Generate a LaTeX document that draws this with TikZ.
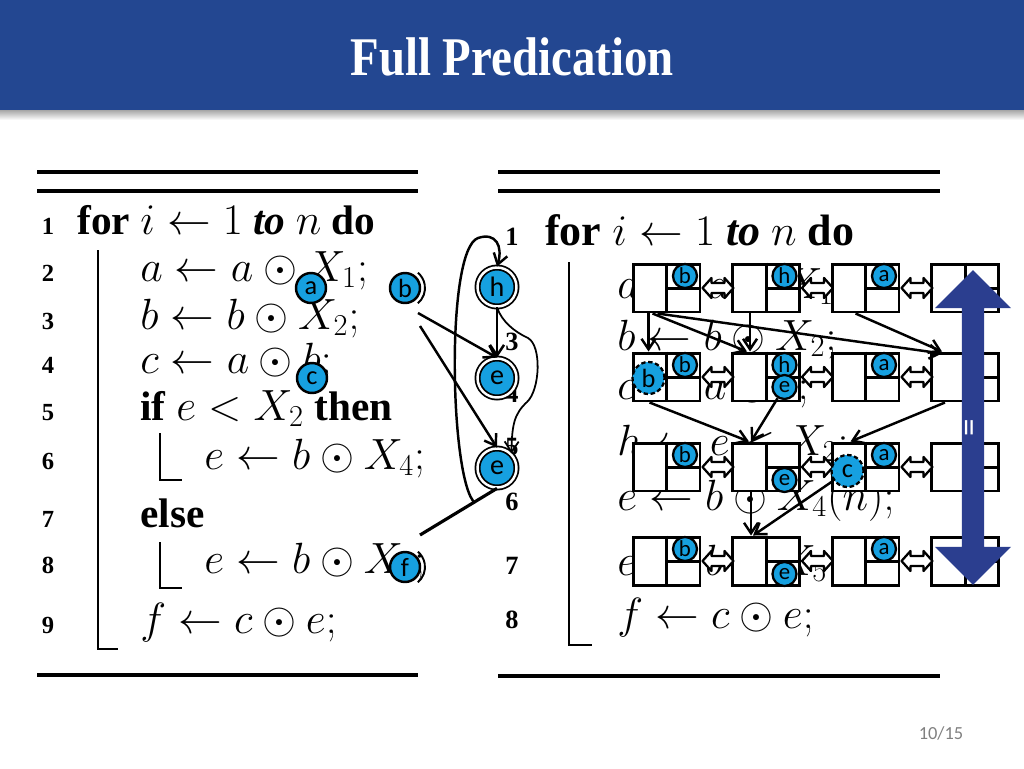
\documentclass[tikz,border=0pt]{standalone}
\usepackage{amsmath,amssymb}
\usepackage{fontspec}
\setmainfont{Liberation Serif}
\newfontfamily\labelfont{Carlito}
\usetikzlibrary{arrows.meta,shapes,positioning,calc}
\definecolor{slideblue}{RGB}{35,71,145}
\definecolor{nodeblue}{RGB}{22,160,224}
\definecolor{arrowblue}{RGB}{43,62,143}

\tikzset{
  algline/.style={anchor=base west, inner sep=0pt, font=\fontsize{23.5}{28}\selectfont},
  ralgline/.style={anchor=base west, inner sep=0pt, font=\fontsize{25}{30}\selectfont},
  lineno/.style={anchor=base, inner sep=0pt, font=\fontsize{14}{16}\selectfont\bfseries},
  rlineno/.style={anchor=base, inner sep=0pt, font=\fontsize{15}{17}\selectfont\bfseries},
  algrule/.style={line width=2.2pt},
  algbar/.style={line width=1.1pt},
  var/.style={circle, draw, fill=nodeblue, line width=1.4pt, minimum size=0.6cm, inner sep=0pt, font=\labelfont\fontsize{15}{16}\selectfont},
  dvar/.style={circle, draw, double, fill=nodeblue, line width=1pt, double distance=1.4pt, minimum size=0.78cm, inner sep=0pt, font=\labelfont\fontsize{16}{17}\selectfont},
  regbox/.style={draw, fill=white, line width=1.7pt, minimum width=1.34cm, minimum height=0.96cm, inner sep=0pt},
  tag/.style={circle, draw, fill=nodeblue, line width=1.3pt, minimum size=0.48cm, inner sep=0pt, font=\labelfont\fontsize{13}{14}\selectfont},
  dtag/.style={circle, draw, dash pattern=on 2.5pt off 1.5pt, fill=nodeblue, line width=1.3pt, minimum size=0.64cm, inner sep=0pt, font=\labelfont\fontsize{15}{16}\selectfont},
  link/.style={draw, fill=white, line width=1.3pt, line join=round},
  arr/.style={line width=1.4pt, -{Straight Barb[length=6pt,width=8pt]}},
}

\begin{document}
\begin{tikzpicture}[x=0.02cm, y=-0.02cm]
    \useasboundingbox (0,0) rectangle (1024,768);

    % Title bar
    \fill[slideblue] (0,0) rectangle (1024,110);
    \shade[top color=gray!70, bottom color=white] (0,110) rectangle (1024,120);
    \node[font=\fontsize{31}{36}\selectfont\bfseries, text=white, xscale=0.86, transform shape] (title) at (512,57) {Full Predication};

    % Left algorithm
    \draw[algrule] (37,172) -- (418,172);
    \draw[algrule] (37,191) -- (418,191);
    \draw[algrule] (37,675) -- (418,675);
    \foreach \n/\y in {1/234,2/281,3/329,4/373,5/420,6/469,7/527,8/573,9/633}
        \node[lineno] (ln\n) at (48,\y) {\n};
    \node[algline] (la1) at (77,234) {\textbf{for} $i \leftarrow 1$ \textbf{\textit{to}} $n$ \textbf{do}};
    \node[algline] (la2) at (140,281) {$a \leftarrow a \odot X_1;$};
    \node[algline] (la3) at (140,329) {$b \leftarrow b \odot X_2;$};
    \node[algline] (la4) at (140,373) {$c \leftarrow a \odot b;$};
    \node[algline] (la5) at (140,420) {\textbf{if} $e < X_2$ \textbf{then}};
    \node[algline] (la6) at (204,469) {$e \leftarrow b \odot X_4;$};
    \node[algline] (la7) at (140,527) {\textbf{else}};
    \node[algline] (la8) at (204,573) {$e \leftarrow b \odot X_5;$};
    \node[algline] (la9) at (140,633) {$f \leftarrow c \odot e;$};
    \draw[algbar] (98,250) -- (98,649) -- (118,649);
    \draw[algbar] (160,433) -- (160,480) -- (182,480);
    \draw[algbar] (160,542) -- (160,588) -- (182,588);

    % Right algorithm
    \draw[algrule] (498,172) -- (940,172);
    \draw[algrule] (498,191) -- (940,191);
    \draw[algrule] (498,676) -- (940,676);
    \foreach \n/\y in {1/245,3/350,4/402,5/455,6/510,7/574,8/628}
        \node[rlineno] (rn\n) at (512,\y) {\n};
    \node[ralgline] (ra1) at (545,245) {\textbf{for} $i \leftarrow 1$ \textbf{\textit{to}} $n$ \textbf{do}};
    \node[ralgline] (ra2) at (617,298) {$a \leftarrow a \odot X_1;$};
    \node[ralgline] (ra3) at (617,350) {$b \leftarrow b \odot X_2;$};
    \node[ralgline] (ra4) at (617,399) {$c \leftarrow a \odot b;$};
    \node[ralgline] (ra5) at (617,455) {$h \leftarrow e < X_2;$};
    \node[ralgline] (ra6) at (617,510) {$e \leftarrow b \odot X_4(n);$};
    \node[ralgline] (ra7) at (617,575) {$e \leftarrow b \odot X_5(n);$};
    \node[ralgline] (ra8) at (617,628) {$f \leftarrow c \odot e;$};
    \draw[algbar] (569,262) -- (569,645) -- (592,645);

    % Dependence graph
    \node[var] (va) at (311,288) {a};
    \node[var] (vb) at (405,288) {b};
    \node[var] (vc) at (312,378) {c};
    \node[var] (vf) at (405,567) {f};
    \draw[line width=1.1pt] (vb) ++(-50:0.4cm) arc[start angle=-50, end angle=50, radius=0.4cm];
    \draw[line width=1.1pt] (vf) ++(-50:0.4cm) arc[start angle=-50, end angle=50, radius=0.4cm];
    \node[dvar] (nh) at (497,287) {h};
    \node[dvar] (ne1) at (497,378) {e};
    \node[dvar] (ne2) at (497,468) {e};
    \coordinate (bo1) at (418,313);
    \coordinate (bo2) at (420,326);
    \coordinate (jn) at (475,503);
    \coordinate (fcut) at (420,535);
    \draw[arr] (nh.south) -- (ne1.north);
    \draw[arr] (bo1) -- (ne1.north);
    \draw[arr] (bo2) -- (ne2.north);
    \draw[arr, line width=1pt] (nh.south) .. controls (502,322) and (515,332) .. (528,338)
        .. controls (542,346) and (540,390) .. (527,402) .. controls (514,414) and (512,425) .. (ne2.north east);
    \draw[line width=1.8pt] (ne2.south) -- (fcut);
    \draw[arr] (jn) .. controls (450,482) and (445,250) .. (478,238) .. controls (496,232) and (503,246) .. (nh.north);

    % Register boxes
    \foreach \r/\y in {1/288,2/377,3/467,4/561} {
        \foreach \c in {1,...,4} {
            \node[regbox] (b\r\c) at ({666.5+99.5*(\c-1)},\y) {};
            \draw[line width=1.7pt] (b\r\c.north) -- (b\r\c.south) (b\r\c.center) -- (b\r\c.east);
        }
        % links to the next box
        \foreach \c in {1,2,3}
            \filldraw[link] ($(b\r\c.east)+(1,0)$) -- ++(9,-10) -- ++(0,5) -- ++(13,0) -- ++(0,-5)
                -- ++(9,10) -- ++(-9,10) -- ++(0,-5) -- ++(-13,0) -- ++(0,5) -- cycle;
    }

    % Variables held in the boxes
    \node[tag] (t11) at ($(b11.east)+(-16.5,-12)$) {b};
    \node[tag] (t12) at ($(b12.east)+(-16.5,-12)$) {h};
    \node[tag] (t13) at ($(b13.east)+(-16.5,-12)$) {a};
    \node[tag] (t21) at ($(b21.east)+(-16.5,-12)$) {b};
    \node[dtag] (s21) at ($(b21.west)+(17,1)$) {b};
    \node[tag] (t22) at ($(b22.east)+(-16.5,-12)$) {h};
    \node[tag] (u22) at ($(b22.east)+(-16.5,10)$) {e};
    \node[tag] (t23) at ($(b23.east)+(-16.5,-12)$) {a};
    \node[tag] (t31) at ($(b31.east)+(-16.5,-12)$) {b};
    \node[tag] (u32) at ($(b32.east)+(-16.5,13)$) {e};
    \node[dtag] (s33) at ($(b33.west)+(17,4)$) {c};
    \node[tag] (t33) at ($(b33.east)+(-16.5,-12)$) {a};
    \node[tag] (t41) at ($(b41.east)+(-16.5,-12)$) {b};
    \node[tag] (u42) at ($(b42.east)+(-16.5,13)$) {e};
    \node[tag] (t43) at ($(b43.east)+(-16.5,-12)$) {a};

    % Flow between rows
    \draw[arr] ($(b11.south west)+(17,0)$) -- ($(b21.north west)+(17,0)$);
    \draw[arr] ($(b11.south west)+(21,0)$) -- ($(b22.north west)+(16,0)$);
    \draw[arr] ($(b11.south west)+(26,0)$) -- ($(b24.north west)+(12,2)$);
    \draw[arr] ($(b12.south west)+(19,0)$) -- ($(b22.north west)+(19,0)$);
    \draw[arr] ($(b13.south west)+(25,0)$) -- ($(b24.north west)+(12,0)$);
    \draw[arr] ($(b21.south west)+(18,0)$) -- ($(b32.north west)+(18,0)$);
    \draw[arr] (u22) -- ($(b32.north west)+(20,0)$);
    \draw[arr] ($(b24.south west)+(15,0)$) -- ($(b33.north west)+(20,0)$);
    \draw[arr] ($(b32.south west)+(20,0)$) -- ($(b42.north west)+(20,0)$);
    \draw[arr] (s33) -- ($(b42.north west)+(22,0)$);

    % Equivalence arrow
    \node[double arrow, fill=arrowblue, rotate=90, minimum height=6.3cm, minimum width=1.52cm,
        double arrow head extend=0.38cm, inner sep=0pt, text=white,
        font=\labelfont\fontsize{20}{20}\selectfont] (eqarrow) at (973,427.5) {=};

    \node[font=\labelfont\fontsize{10.5}{12}\selectfont, text=gray] (pageno) at (941,733) {10/15};
\end{tikzpicture}
\end{document}
